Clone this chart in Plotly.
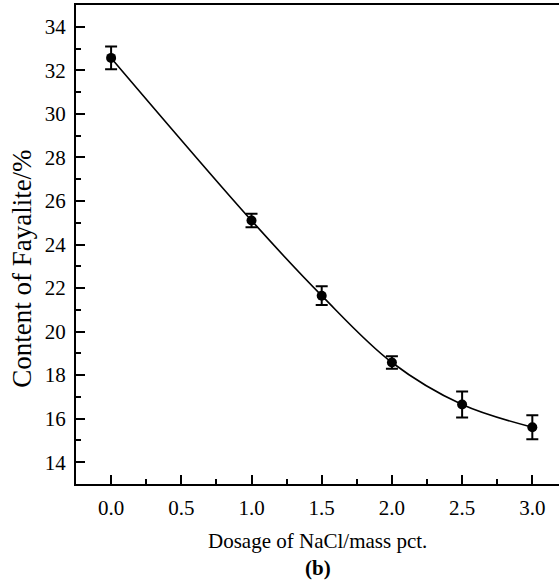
import plotly.graph_objects as go

dosage = [0.0, 1.0, 1.5, 2.0, 2.5, 3.0]
fayalite = [32.57, 25.10, 21.65, 18.58, 16.65, 15.61]
err = [0.52, 0.31, 0.43, 0.29, 0.60, 0.55]
x_ticks = [0.0, 0.5, 1.0, 1.5, 2.0, 2.5, 3.0]
x_tick_labels = ["0.0", "0.5", "1.0", "1.5", "2.0", "2.5", "3.0"]
y_ticks = [14, 16, 18, 20, 22, 24, 26, 28, 30, 32, 34]

FONT = "Liberation Serif"

fig = go.Figure()
fig.add_trace(go.Scatter(
    x=dosage, y=fayalite, mode="lines",
    line=dict(color="black", width=1.6, shape="spline", smoothing=1.0),
    showlegend=False, hoverinfo="skip"))
fig.add_trace(go.Scatter(
    x=dosage, y=fayalite, mode="markers",
    marker=dict(color="black", size=10),
    error_y=dict(type="data", array=err, visible=True, color="black",
                 thickness=2, width=6),
    showlegend=False))

fig.update_layout(
    width=559, height=586,
    margin=dict(l=76, r=0, t=5, b=102),
    paper_bgcolor="white", plot_bgcolor="white",
    font=dict(family=FONT, color="black", size=21),
    xaxis=dict(
        range=[-0.25, 3.19], tickvals=x_ticks, ticktext=x_tick_labels,
        ticks="inside", ticklen=9, tickwidth=1.5, tickcolor="black",
        minor=dict(dtick=0.25, tick0=0, ticks="inside", ticklen=5,
                   tickwidth=1.5, tickcolor="black"),
        showline=True, linecolor="black", linewidth=2, mirror=True,
        showgrid=False, zeroline=False,
        tickfont=dict(family=FONT, size=21), ticklabelstandoff=4),
    yaxis=dict(
        range=[13, 35], tickvals=y_ticks,
        ticks="inside", ticklen=9, tickwidth=1.5, tickcolor="black",
        minor=dict(dtick=1, tick0=0, ticks="inside", ticklen=5,
                   tickwidth=1.5, tickcolor="black"),
        showline=True, linecolor="black", linewidth=2, mirror=False,
        showgrid=False, zeroline=False,
        tickfont=dict(family=FONT, size=21), ticklabelstandoff=4),
    annotations=[
        dict(text="Content of Fayalite/%", xref="paper", yref="paper",
             x=-0.111, y=0.45, textangle=-90, xanchor="center", yanchor="middle",
             showarrow=False, font=dict(family=FONT, size=27)),
        dict(text="Dosage of NaCl/mass pct.", xref="paper", yref="paper",
             x=0.5, y=-0.12, yanchor="middle", xanchor="center", showarrow=False,
             font=dict(family=FONT, size=21)),
        dict(text="<b>(b)</b>", xref="paper", yref="paper",
             x=0.5, y=-0.175, yanchor="middle", xanchor="center", showarrow=False,
             font=dict(family=FONT, size=21)),
    ],
)

fig.write_html("out.html")
